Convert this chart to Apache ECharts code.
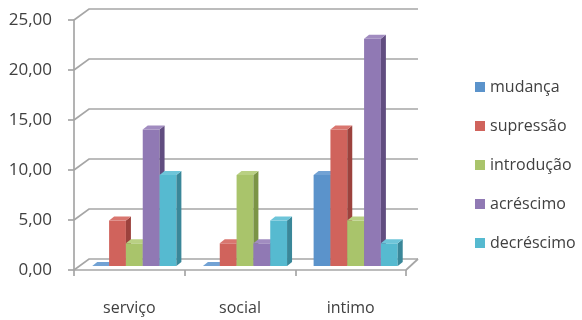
<!DOCTYPE html>
<html>
<head>
<meta charset="utf-8">
<script src="https://cdn.jsdelivr.net/npm/echarts@6/dist/echarts.min.js"></script>
<style>
  html, body { margin: 0; padding: 0; background: #fff; }
  #chart { width: 582px; height: 320px; }
</style>
</head>
<body>
<div id="chart"></div>
<script>
// Categories and series (percent of occurrences)
const categories = ['serviço', 'social', 'intimo'];
const seriesNames = ['mudança', 'supressão', 'introdução', 'acréscimo', 'decréscimo'];
const mudanca    = [0, 0, 9.09];
const supressao  = [4.55, 2.27, 13.64];
const introducao = [2.27, 9.09, 4.55];
const acrescimo  = [13.64, 2.27, 22.73];
const decrescimo = [9.09, 4.55, 2.27];
const yTicks = [0, 5, 10, 15, 20, 25];

const seriesValues = [mudanca, supressao, introducao, acrescimo, decrescimo];

// front / side / top shades of each bar colour
const palette = [
  { front: '#5b93cb', side: '#3e6b98', top: '#72a2d4' },
  { front: '#d0635c', side: '#9c423d', top: '#d9766f' },
  { front: '#a9c46b', side: '#7b9446', top: '#b9d083' },
  { front: '#9079b4', side: '#614d80', top: '#a18cc0' },
  { front: '#56bad0', side: '#3a8799', top: '#6ec5d9' }
];

const gridColor = '#a6a6a6';
const textColor = '#404040';

// 3D offsets: back wall depth and bar placement in depth
const wallLeft = [15, -11], wallRight = [12, -11];
const barShift = [5, -4], barDepth = [5, -4];

function wallItem(params, api) {
  const cs = params.coordSys;
  const v = api.value(1);
  const y = api.coord([0, v])[1];
  const x0 = cs.x, x1 = cs.x + cs.width;
  const children = [{
    type: 'polyline',
    shape: { points: [[x0, y], [x0 + wallLeft[0], y + wallLeft[1]], [x1 + wallRight[0], y + wallRight[1]]] },
    style: { stroke: gridColor, lineWidth: 1.7, fill: null }
  }];
  if (v === 0) {
    children.push({
      type: 'line',
      shape: { x1: x1 + wallRight[0], y1: y + wallRight[1], x2: x1, y2: y },
      style: { stroke: gridColor, lineWidth: 1.7 }
    });
  }
  return { type: 'group', children: children };
}

function makeBarRenderer(idx) {
  const c = palette[idx];
  return function (params, api) {
    const j = api.value(0);
    const v = api.value(1);
    const base = api.coord([j, 0]);
    const topPt = api.coord([j, v]);
    const band = api.size([1, 0])[0];
    const bw = band * 0.152;
    const xa = base[0] - 2.5 * bw + idx * bw + barShift[0];
    const xb = xa + bw;
    const yb = base[1] + barShift[1];
    const yt = topPt[1] + barShift[1];
    const dx = barDepth[0], dy = barDepth[1];
    return {
      type: 'group',
      children: [
        { type: 'polygon', shape: { points: [[xa, yt], [xb, yt], [xb, yb], [xa, yb]] },
          style: { fill: c.front } },
        { type: 'polygon', shape: { points: [[xb, yt], [xb + dx, yt + dy], [xb + dx, yb + dy], [xb, yb]] },
          style: { fill: c.side } },
        { type: 'polygon', shape: { points: [[xa, yt], [xa + dx, yt + dy], [xb + dx, yt + dy], [xb, yt]] },
          style: { fill: c.top } }
      ]
    };
  };
}

const chart = echarts.init(document.getElementById('chart'), null, { renderer: 'canvas' });

const series = [{
  type: 'custom',
  renderItem: wallItem,
  data: yTicks.map(v => [0, v]),
  encode: { x: 0, y: 1 },
  clip: false,
  silent: true,
  z: 1
}];
seriesValues.forEach((vals, i) => {
  series.push({
    name: seriesNames[i],
    type: 'custom',
    renderItem: makeBarRenderer(i),
    itemStyle: { color: palette[i].front },
    data: vals.map((v, j) => [j, v]),
    encode: { x: 0, y: 1 },
    clip: false,
    z: 2 + i
  });
});

chart.setOption({
  animation: false,
  backgroundColor: '#ffffff',
  grid: { left: 74, right: 176, top: 20, bottom: 50, containLabel: false },
  legend: {
    orient: 'vertical',
    left: 470,
    top: 74,
    icon: 'rect',
    itemWidth: 10,
    itemHeight: 10,
    itemGap: 23,
    data: seriesNames,
    textStyle: { fontFamily: 'Open Sans', fontSize: 16, color: textColor, lineHeight: 16 }
  },
  xAxis: {
    type: 'category',
    data: categories,
    boundaryGap: true,
    axisLine: { show: true, lineStyle: { color: gridColor, width: 1.7 } },
    axisTick: { show: true, length: 6, interval: 0, lineStyle: { color: gridColor, width: 1.7 } },
    axisLabel: { margin: 30, fontFamily: 'Open Sans', fontSize: 16, color: textColor }
  },
  yAxis: {
    type: 'value',
    min: 0,
    max: 25,
    interval: 5,
    axisLine: { show: true, lineStyle: { color: gridColor, width: 1.7 } },
    axisTick: { show: true, length: 6, lineStyle: { color: gridColor, width: 1.7 } },
    splitLine: { show: false },
    axisLabel: {
      margin: 22,
      fontFamily: 'Open Sans',
      fontSize: 17,
      color: textColor,
      formatter: v => v.toFixed(2).replace('.', ',')
    }
  },
  series: series
});
</script>
</body>
</html>
